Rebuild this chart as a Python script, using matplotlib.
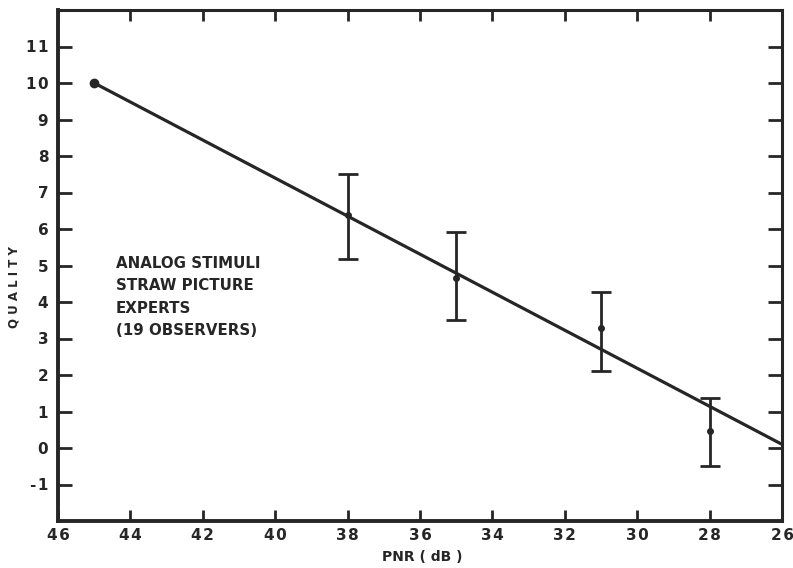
import matplotlib
matplotlib.use("Agg")
import matplotlib.pyplot as plt

# measured points (PNR dB, quality) with error bar ends
pnr = [45, 38, 35, 31, 28]
quality = [10.0, 6.37, 4.67, 3.28, 0.46]
err_hi = [10.0, 7.51, 5.93, 4.28, 1.37]
err_lo = [10.0, 5.19, 3.50, 2.12, -0.49]

# fitted line end points
fit_pnr = [45, 26]
fit_quality = [10.0, 0.1]

x_ticks = [46, 44, 42, 40, 38, 36, 34, 32, 30, 28, 26]
y_ticks = list(range(-1, 12))

notes = ["ANALOG STIMULI", "STRAW PICTURE", "EXPERTS", "(19 OBSERVERS)"]

INK = "#262626"
SP = "\u200a"  # hair space, spreads digits a little like the typewriter lettering


def spread(s):
    return SP.join(s)


fig = plt.figure(figsize=(7.93, 5.68), dpi=100)
ax = fig.add_axes([58 / 793, 1 - 521 / 568, 724 / 793, 511 / 568])

ax.plot(fit_pnr, fit_quality, color=INK, lw=2.3, solid_capstyle="butt")
yerr = [[q - l for q, l in zip(quality, err_lo)],
        [h - q for q, h in zip(quality, err_hi)]]
ax.errorbar(pnr[1:], quality[1:],
            yerr=[yerr[0][1:], yerr[1][1:]],
            fmt="o", ms=4, color=INK, ecolor=INK, elinewidth=2,
            capsize=7, capthick=2)
ax.plot(pnr[:1], quality[:1], "o", ms=6, color=INK)

ax.set_xlim(46, 26)
ax.set_ylim(-2, 12)
ax.set_xticks(x_ticks)
ax.set_yticks(y_ticks)
ax.set_xticklabels([spread(str(v)) for v in x_ticks], fontsize=11,
                   fontweight="bold", color=INK)
ax.set_yticklabels([spread(str(v)) for v in y_ticks], fontsize=11,
                   fontweight="bold", color=INK)
ax.tick_params(direction="in", width=2, color=INK, top=True, right=True)
ax.tick_params(axis="x", length=8, pad=5)
ax.tick_params(axis="y", length=10, pad=7)

for name, s in ax.spines.items():
    s.set_linewidth(2.8 if name in ("left", "bottom") else 2.2)
    s.set_color(INK)

fig.text(422 / 793, 1 - 557 / 568, "PNR ( dB )", fontsize=10,
         fontweight="bold", color=INK, ha="center", va="center")
fig.text(14 / 793, 1 - 287 / 568, " ".join("QUALITY"), fontsize=8.5,
         fontweight="bold", color=INK, ha="center", va="center",
         rotation=90)

for i, t in enumerate(notes):
    ax.text(44.4, 5.05 - i * 0.61, t, fontsize=10.8, fontweight="bold",
            color=INK, ha="left", va="center")

fig.savefig("out.png", dpi=100)
